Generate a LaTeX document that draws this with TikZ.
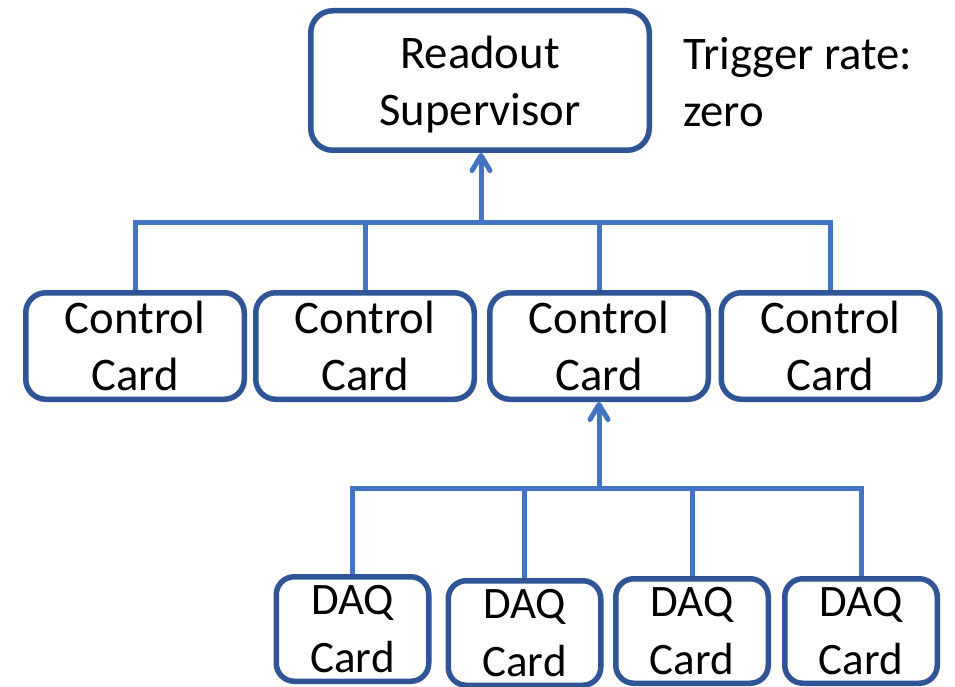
\documentclass[tikz,border=0pt]{standalone}
\usepackage{fontspec}
\setmainfont{Carlito}
\usetikzlibrary{arrows.meta}
\definecolor{boxblue}{HTML}{2F5597}
\definecolor{linkblue}{HTML}{4472C4}
\begin{document}
\begin{tikzpicture}[x=1pt,y=-1pt,
  card/.style={draw=boxblue, line width=5.5pt, rounded corners=20pt, inner sep=0pt,
    align=center, font=\fontsize{46.7}{57}\selectfont},
  ctrl/.style={card, minimum width=218.5pt, minimum height=106.5pt},
  daq/.style={card, minimum width=152.5pt, minimum height=104.5pt, rounded corners=18pt,
    font=\fontsize{45}{58}\selectfont},
  link/.style={draw=linkblue, line width=5pt},
  up/.style={link, -{Straight Barb[length=15pt, width=18pt, round]}},
]
\useasboundingbox (0,0) rectangle (955,687);
\fill[white] (0,0) rectangle (955,687);

% top level
\node[card, minimum width=338.5pt, minimum height=139.5pt, rounded corners=22pt]
  (rs) at (480,80.5) {Readout\\\raisebox{0pt}[\height][0pt]{Supervisor}};
\node[anchor=north west, inner sep=0pt, align=left, font=\fontsize{46.7}{57}\selectfont]
  (trig) at (683,37) {Trigger rate:\\zero};

% control cards
\node[ctrl] (cc1) at (135,346) {Control\\Card};
\node[ctrl] (cc2) at (365,346) {Control\\Card};
\node[ctrl] (cc3) at (599,346) {Control\\Card};
\node[ctrl] (cc4) at (830.5,346) {Control\\Card};

% DAQ cards
\node[daq] (dq1) at (352.5,629) {DAQ\\Card};
\node[daq] (dq2) at (524.5,633) {DAQ\\Card};
\node[daq] (dq3) at (692,631) {DAQ\\Card};
\node[daq] (dq4) at (861,631) {DAQ\\Card};

% bus from control cards to the supervisor
\coordinate (j1) at (481,222);
\draw[link] (cc1.north) -- (cc1.north |- j1) -- (cc4.north |- j1) -- (cc4.north);
\draw[link] (cc2.north) -- (cc2.north |- j1);
\draw[link] (cc3.north) -- (cc3.north |- j1);
\draw[up] (j1) -- (j1 |- rs.south);

% bus from DAQ cards to one control card
\coordinate (j2) at (599,488);
\draw[link] (dq1.north) -- (dq1.north |- j2) -- (dq4.north |- j2) -- (dq4.north);
\draw[link] (dq2.north) -- (dq2.north |- j2);
\draw[link] (dq3.north) -- (dq3.north |- j2);
\draw[up] (j2) -- (cc3.south);
\end{tikzpicture}
\end{document}
